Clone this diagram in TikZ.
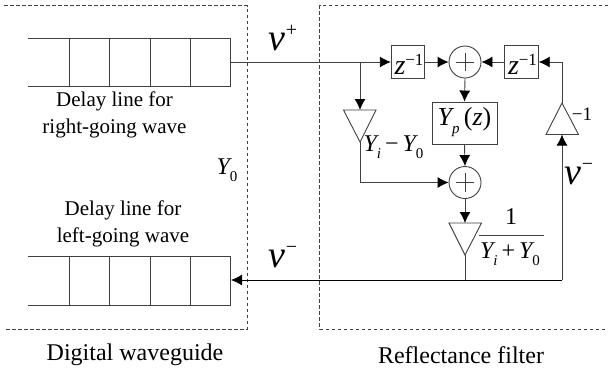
\documentclass[tikz,border=0pt]{standalone}
\usepackage{fontspec}
\setmainfont{Liberation Serif}
\usetikzlibrary{arrows.meta}
\newcommand{\ital}[1]{{\itshape #1}}
\newcommand{\subsc}[1]{\raisebox{-0.3em}{\fontsize{15}{15}\selectfont #1}}
\newcommand{\zinv}{{\fontsize{28}{28}\selectfont\ital{z}}\raisebox{9pt}{\fontsize{17}{17}\selectfont −1}}
\newcommand{\vsym}[1]{{\fontsize{38}{38}\selectfont\ital{v}}\raisebox{14pt}{\fontsize{20}{20}\selectfont #1}}
\tikzset{
  x=1pt,y=-1pt,
  wire/.style={draw=black!75,line width=0.9pt},
  flow/.style={wire,-{Latex[length=11pt,width=11pt,black]}},
  blockbox/.style={draw=black!75,line width=0.9pt,inner sep=0pt},
  sumnode/.style={circle,draw=black!75,line width=0.9pt,minimum size=32pt,inner sep=0pt},
  frame/.style={draw=black!75,line width=0.8pt,dash pattern=on 3.5pt off 2.5pt},
  cell/.style={draw=black!75,line width=0.9pt},
  caption/.style={font=\fontsize{21}{27}\selectfont,align=center,inner sep=0pt},
  bigcaption/.style={font=\fontsize{24}{26}\selectfont,inner sep=0pt},
  mlabel/.style={font=\fontsize{24}{24}\selectfont,inner sep=0pt}
}
\begin{document}
\begin{tikzpicture}
\useasboundingbox (0,0) rectangle (608,376);
% frames
\draw[frame] (4,5.5) -- (247,5.5) -- (247,329) -- (4,329);
\draw[frame] (608,5.5) -- (319.5,5.5) -- (319.5,329) -- (608,329);
% delay lines
\foreach \t/\b in {38/86,256/305}{
  \draw[cell] (28,\t) -- (230,\t) -- (230,\b) -- (28,\b);
  \foreach \c in {69,109,150,190}{\draw[cell] (\c,\t) -- (\c,\b);}
}
\coordinate (upperout) at (230,62);
\coordinate (lowerin) at (231,280);
\node[caption] (cap1) at (114.5,115) {Delay line for\\right-going wave};
\node[caption] (cap3) at (123,224) {Delay line for\\left-going wave};
\node[bigcaption] (cap4) at (135,355) {Digital waveguide};
\node[bigcaption] (cap5) at (461,355) {Reflectance filter};
% blocks
\node[blockbox,minimum width=33.5pt,minimum height=33pt] (z1) at (408,62) {};
\node[blockbox,minimum width=33.5pt,minimum height=33pt] (z2) at (521.5,62) {};
\node[blockbox,minimum width=65pt,minimum height=42pt] (yp) at (464.5,123) {};
\node[sumnode] (s1) at (465,62) {};
\node[sumnode] (s2) at (465,182.5) {};
\draw[wire,shorten >=7pt,shorten <=7pt] (s1.north) -- (s1.south);
\draw[wire,shorten >=7pt,shorten <=7pt] (s1.west) -- (s1.east);
\draw[wire,shorten >=7pt,shorten <=7pt] (s2.north) -- (s2.south);
\draw[wire,shorten >=7pt,shorten <=7pt] (s2.west) -- (s2.east);
\node[inner sep=0pt] (zt1) at (409,64) {\zinv};
\node[inner sep=0pt] (zt2) at (522.5,64) {\zinv};
\node[inner sep=0pt] (ypt) at (464.5,122) {\fontsize{26}{26}\selectfont\ital{Y}\subsc{\ital{p}}\,(\ital{z})};
% triangles
\coordinate (t1top) at (360,110);
\coordinate (t1apex) at (360,142);
\draw[wire,fill=white] (343.5,110) -- (376,110) -- (t1apex) -- cycle;
\coordinate (t2top) at (465,223);
\coordinate (t2apex) at (465,255);
\draw[wire,fill=white] (449,223) -- (481.5,223) -- (t2apex) -- cycle;
\coordinate (t3apex) at (562,103);
\coordinate (t3base) at (562,134.5);
\draw[wire,fill=white] (546,134.5) -- (578.5,134.5) -- (t3apex) -- cycle;
% connectors
\coordinate (branch) at (360,62);
\coordinate (corner1) at (562,62);
\coordinate (corner2) at (562,280);
\coordinate (tap) at (465,280);
\coordinate (corner3) at (360,182.5);
\draw[flow] (upperout) -- (z1.west);
\draw[flow] (z1.east) -- (s1.west);
\draw[flow] (z2.west) -- (s1.east);
\draw[flow] (t3apex) -- (corner1) -- (z2.east);
\draw[flow] (s1.south) -- (yp.north);
\draw[flow] (yp.south) -- (s2.north);
\draw[flow] (branch) -- (t1top);
\draw[flow] (t1apex) -- (corner3) -- (s2.west);
\draw[flow] (s2.south) -- (t2top);
\draw[wire] (t2apex) -- (tap);
\draw[flow] (corner2) -- (t3base);
\draw[line width=0.9pt,-{Latex[length=11pt,width=11pt,black]}] (corner2) -- (lowerin);
% labels
\node[inner sep=0pt] (vp) at (283,38) {\vsym{+}};
\node[inner sep=0pt] (vm) at (283,257) {\vsym{−}};
\node[inner sep=0pt] (vm2) at (579,174) {\vsym{−}};
\node[mlabel] (y0) at (227,170) {\ital{Y}\subsc{0}};
\node[font=\fontsize{19}{19}\selectfont,inner sep=0pt] (m1) at (582,114) {−1};
\node[mlabel] (yd) at (393.5,147) {\ital{Y}\subsc{\ital{i}}\,−\,\ital{Y}\subsc{0}};
\node[mlabel] (one) at (511,217) {1};
\coordinate (barl) at (479,235);
\coordinate (barr) at (544,235);
\draw[wire] (barl) -- (barr);
\node[mlabel] (ys) at (510,254) {\ital{Y}\subsc{\ital{i}}\,+\,\ital{Y}\subsc{0}};
\end{tikzpicture}
\end{document}
